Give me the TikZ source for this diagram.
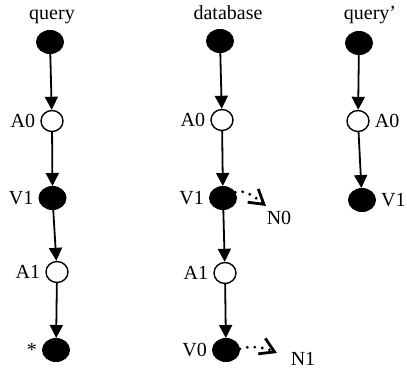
\documentclass[tikz,border=0pt]{standalone}
\usepackage{fontspec}
\setmainfont{Liberation Serif}
\usetikzlibrary{arrows.meta,shapes.geometric}
\begin{document}
\begin{tikzpicture}[x=1bp,y=-1bp,
  font=\fontsize{20bp}{24bp}\selectfont,
  full/.style={ellipse, draw, fill=black, line width=1bp, minimum width=27bp, minimum height=23bp, inner sep=0pt},
  hollow/.style={ellipse, draw, fill=white, line width=1.4bp, minimum width=22bp, minimum height=21bp, inner sep=0pt},
  lab/.style={inner sep=5bp},
  title/.style={anchor=base, inner sep=0pt},
  link/.style={line width=1.8bp, -{Triangle[width=13bp,length=13bp]}},
  dotlink/.style={line width=3.2bp, line cap=round, dash pattern=on 0pt off 7.5bp,
    -{Straight Barb[length=14bp,width=17bp,line width=2.8bp]}}
]
\useasboundingbox (0,0) rectangle (407,375);

% column 1: query
\node[title] (tq) at (52,19) {query};
\node[full] (q0) at (50,42) {};
\node[hollow] (qA0) at (52,121) {};
\node[full] (qV1) at (52.5,198) {};
\node[hollow] (qA1) at (57,272) {};
\node[full] (qS) at (56,350) {};
\node[lab, left] (lqA0) at (qA0.west) {A0};
\node[lab, left] (lqV1) at (qV1.west) {V1};
\node[lab, left] (lqA1) at (qA1.west) {A1};
\node[lab, left] (lqS) at (qS.west) {*};
\draw[link] (q0) -- (qA0);
\draw[link] (qA0) -- (qV1);
\draw[link] (qV1) -- (qA1);
\draw[link] (qA1) -- (qS);

% column 2: database
\node[title] (td) at (228,19) {database};
\node[full] (d0) at (220,41) {};
\node[hollow] (dA0) at (222,120) {};
\node[full] (dV1) at (223,198) {};
\node[hollow] (dA1) at (225,273) {};
\node[full] (dV0) at (226,350) {};
\node[lab, left] (ldA0) at (dA0.west) {A0};
\node[lab, left] (ldV1) at (dV1.west) {V1};
\node[lab, left] (ldA1) at (dA1.west) {A1};
\node[lab, left] (ldV0) at (dV0.west) {V0};
\draw[link] (d0) -- (dA0);
\draw[link] (dA0) -- (dV1);
\draw[link] (dV1) -- (dA1);
\draw[link] (dA1) -- (dV0);
\coordinate (n0tip) at (266,206);
\coordinate (n1tip) at (277,353);
\draw[dotlink] (dV1.25) .. controls (246,189) and (256,198) .. (n0tip);
\draw[dotlink] (dV0.5) .. controls (252,345) and (266,348) .. (n1tip);
\node (N0) at (279,218) {N0};
\node (N1) at (303,359) {N1};

% column 3: query'
\node[title] (tp) at (370,19) {query’};
\node[full] (p0) at (359,43) {};
\node[hollow] (pA0) at (358,121) {};
\node[full] (pV1) at (362,200) {};
\node[lab, right] (lpA0) at (pA0.east) {A0};
\node[lab, right] (lpV1) at (pV1.east) {V1};
\draw[link] (p0) -- (pA0);
\draw[link] (pA0) -- (pV1);
\end{tikzpicture}
\end{document}
